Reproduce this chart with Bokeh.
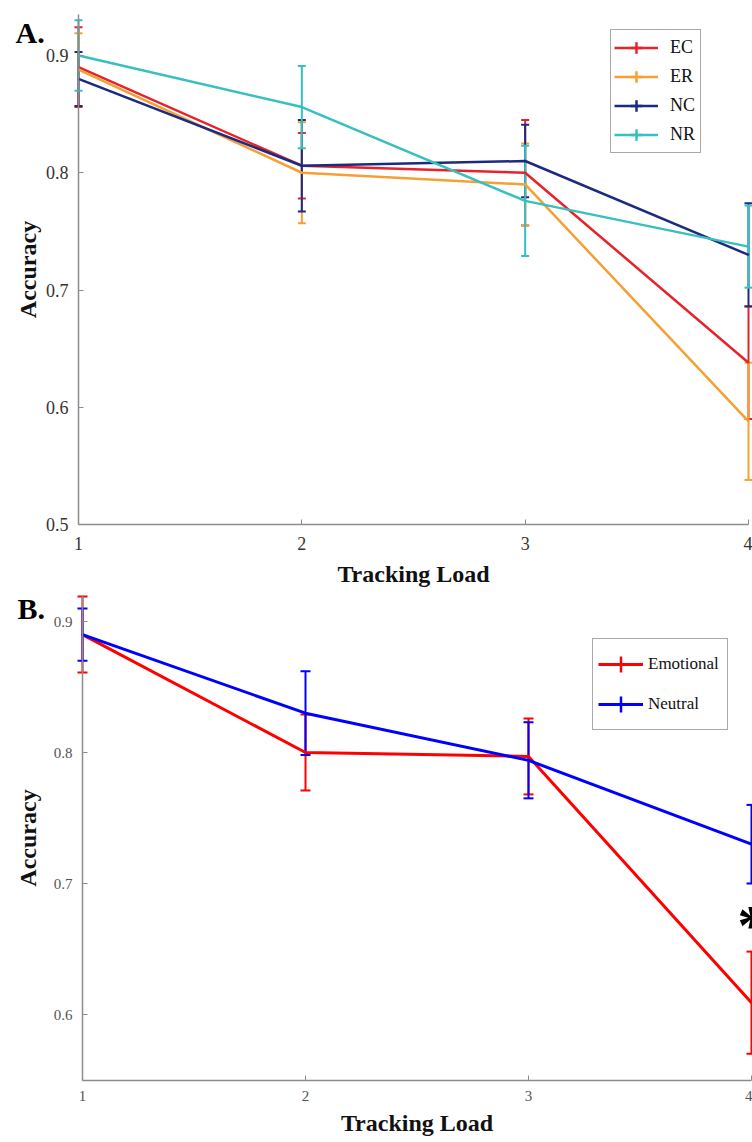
from bokeh.plotting import figure
from bokeh.models import (ColumnDataSource, Whisker, TeeHead, Legend, LegendItem,
                          Range1d, FixedTicker, Label)
from bokeh.layouts import column
from bokeh.embed import file_html
from bokeh.resources import INLINE
from bokeh.core.properties import value

# ---------------- data ----------------
loads = [1, 2, 3, 4]
x_ticks = [1, 2, 3, 4]

# Panel A
a_labels = ["EC", "ER", "NC", "NR"]
ec_mean = [0.890, 0.806, 0.800, 0.638]
ec_err = [0.034, 0.028, 0.045, 0.048]
er_mean = [0.888, 0.800, 0.790, 0.588]
er_err = [0.031, 0.043, 0.035, 0.050]
nc_mean = [0.880, 0.806, 0.810, 0.730]
nc_err = [0.023, 0.039, 0.031, 0.044]
nr_mean = [0.900, 0.856, 0.776, 0.737]
nr_err = [0.030, 0.035, 0.047, 0.035]
a_colors = ["#E8222A", "#F6A033", "#1C2B7F", "#38BFBF"]
a_yticks = [0.5, 0.6, 0.7, 0.8, 0.9]
a_ylim = (0.5, 0.935)

# Panel B
b_labels = ["Emotional", "Neutral"]
emo_mean = [0.890, 0.800, 0.797, 0.609]
emo_err = [0.029, 0.029, 0.029, 0.039]
neu_mean = [0.890, 0.830, 0.794, 0.730]
neu_err = [0.020, 0.032, 0.029, 0.030]
b_colors = ["#FF0000", "#0000FF"]
b_yticks = [0.6, 0.7, 0.8, 0.9]
b_ylim = (0.55, 0.92)

sig_x = [4]
sig_y = [0.674]

FONT = "Liberation Serif"


class Panel:
    """Figure whose frame fills the whole canvas; axes sit at fixed data positions."""

    def __init__(self, W, H, x1px, x4px, ylo_val, ylo_px, yhi_val, yhi_px, ylim,
                 yticks, tick_size, tick_color, x_tick_so, x_lab_so, y_lab_so):
        ppx = (x4px - x1px) / 3.0
        ppy = (ylo_px - yhi_px) / (yhi_val - ylo_val)
        self.x0 = 1 - x1px / ppx
        self.y1 = ylo_val + ylo_px / ppy
        self.ppx, self.ppy, self.H = ppx, ppy, H
        x_end = 4 + (W - x4px) / ppx
        y_start = ylo_val - (H - ylo_px) / ppy
        p = figure(width=W, height=H, x_range=Range1d(self.x0, x_end),
                   y_range=Range1d(y_start, self.y1),
                   output_backend="svg", toolbar_location=None,
                   min_border=0, min_border_left=0, min_border_right=0,
                   min_border_top=0, min_border_bottom=0)
        p.outline_line_color = None
        p.grid.visible = False
        p.xaxis.fixed_location = ylim[0]
        p.yaxis.fixed_location = 1
        p.xaxis.bounds = (1, 4)
        p.yaxis.bounds = ylim
        p.xaxis.ticker = FixedTicker(ticks=x_ticks)
        p.yaxis.ticker = FixedTicker(ticks=yticks)
        for ax in (p.xaxis[0], p.yaxis[0]):
            ax.axis_line_color = "#8C8C8C"
            ax.axis_line_width = 1.5
            ax.major_tick_line_color = "#8C8C8C"
            ax.major_tick_in = 5
            ax.major_tick_out = 0
            ax.minor_tick_line_color = None
            ax.major_label_text_font = FONT
            ax.major_label_text_font_size = tick_size
            ax.major_label_text_color = tick_color
            ax.axis_label_text_font = FONT
            ax.axis_label_text_font_style = "bold"
            ax.axis_label_text_font_size = "24px"
            ax.axis_label_text_color = "#111111"
        p.xaxis.axis_label = "Tracking Load"
        p.yaxis.axis_label = "Accuracy"
        p.yaxis.major_label_standoff = 10
        p.yaxis.axis_label_standoff = y_lab_so
        p.xaxis.major_label_standoff = x_tick_so
        p.xaxis.axis_label_standoff = x_lab_so
        self.p = p

    def px_to_data(self, px, py):
        return self.x0 + px / self.ppx, self.y1 - py / self.ppy


def add_series(p, means, errs, color, lw, whisk_w, cap):
    src = ColumnDataSource(dict(
        x=loads, y=means,
        lower=[m - e for m, e in zip(means, errs)],
        upper=[m + e for m, e in zip(means, errs)]))
    line_r = p.line("x", "y", source=src, line_color=color, line_width=lw)
    w = Whisker(source=src, base="x", lower="lower", upper="upper",
                line_color=color, line_width=whisk_w,
                upper_head=TeeHead(size=cap, line_color=color, line_width=whisk_w),
                lower_head=TeeHead(size=cap, line_color=color, line_width=whisk_w))
    p.add_layout(w)
    # tiny marker: only used to give the legend its vertical error-bar stroke
    mark_r = p.scatter("x", "y", source=src, marker="cross", size=0.5,
                       line_color=color, line_width=whisk_w + 0.5)
    return [line_r, mark_r]


# ---------------- Panel A ----------------
A = Panel(752, 590, 78, 748, 0.5, 524, 0.9, 55, a_ylim, a_yticks,
          "18px", "#333333", 12, 8, 2)
pA = A.p
items_a = []
for lab, m, e, c in zip(a_labels, [ec_mean, er_mean, nc_mean, nr_mean],
                        [ec_err, er_err, nc_err, nr_err], a_colors):
    rs = add_series(pA, m, e, c, 2.5, 2, 8)
    items_a.append(LegendItem(label=lab, renderers=rs))

leg_a = Legend(items=items_a, location=(610, 590 - 153), orientation="vertical",
               glyph_width=44, glyph_height=29, spacing=0, padding=3, margin=0,
               label_standoff=12, label_width=27,
               label_text_font=FONT, label_text_font_size="18px",
               label_text_color="#111111",
               border_line_color="#555555", border_line_width=1,
               background_fill_color="white", background_fill_alpha=1)
pA.add_layout(leg_a)
ax_, ay_ = A.px_to_data(15, 32)
pA.add_layout(Label(x=ax_, y=ay_, text="A.", text_font=FONT,
                    text_font_style="bold", text_font_size="30px",
                    text_color="black", text_baseline="alphabetic"))

# ---------------- Panel B ----------------
B = Panel(752, 550, 82, 751, 0.6, 424, 0.9, 31, b_ylim, b_yticks,
          "15px", "#555555", 11, 5, 10)
pB = B.p
items_b = []
for lab, m, e, c in zip(b_labels, [emo_mean, neu_mean], [emo_err, neu_err], b_colors):
    rs = add_series(pB, m, e, c, 3, 2, 10)
    items_b.append(LegendItem(label=lab, renderers=rs))

leg_b = Legend(items=items_b, location=(592, 550 - 140), orientation="vertical",
               glyph_width=45, glyph_height=40, spacing=0, padding=5, margin=0,
               label_standoff=5, label_width=74,
               label_text_font=FONT, label_text_font_size="17px",
               label_text_color="#111111",
               border_line_color="#555555", border_line_width=1,
               background_fill_color="white", background_fill_alpha=1)
pB.add_layout(leg_b)
pB.text(x=sig_x, y=sig_y, text=["*"], text_font=value(FONT), text_font_style="bold",
        text_font_size="56px", text_align="center", text_baseline="middle",
        y_offset=8, text_color="black")
bx_, by_ = B.px_to_data(17, 18)
pB.add_layout(Label(x=bx_, y=by_, text="B.", text_font=FONT,
                    text_font_style="bold", text_font_size="30px",
                    text_color="black", text_baseline="alphabetic"))

layout = column(pA, pB, spacing=0)
open("out.html", "w").write(file_html(layout, INLINE))
